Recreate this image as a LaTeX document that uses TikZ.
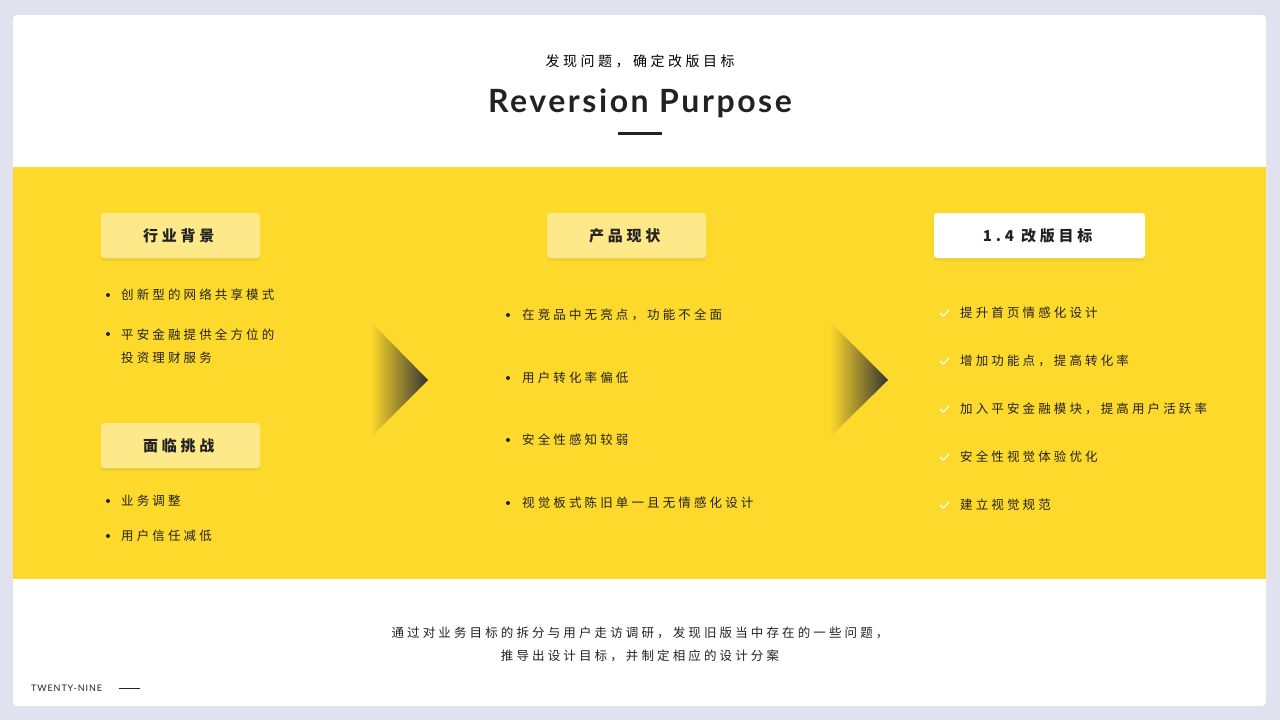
\documentclass[tikz,border=0pt]{standalone}
\usepackage{fontspec}
\setmainfont{Noto Sans CJK SC}
\newfontfamily\cjk[LetterSpace=25]{Noto Sans CJK SC}
\newfontfamily\ttl[LetterSpace=8]{Lato}
\newfontfamily\smallf[LetterSpace=10]{Lato}
\usetikzlibrary{shadows}
\definecolor{bgc}{HTML}{E0E3EE}
\definecolor{ylw}{HTML}{FDD92B}
\definecolor{lylw}{HTML}{FDE98A}
\definecolor{txt}{HTML}{222222}
\tikzset{
 hbox/.style={rounded corners=3pt,minimum width=159pt,minimum height=45pt,inner sep=0pt,font=\cjk\fontsize{15}{15}\selectfont,text=txt,drop shadow={opacity=0.12,shadow xshift=0pt,shadow yshift=-3pt}},
 itm/.style={anchor=west,inner sep=0pt,font=\cjk\fontsize{12.5}{23}\selectfont,text=txt,align=left},
 dot/.style={circle,fill=txt,inner sep=0pt,minimum size=4pt},
}
\begin{document}
\begin{tikzpicture}[x=1pt,y=-1pt]
\useasboundingbox (0,0) rectangle (1280,720);
\fill[bgc] (0,0) rectangle (1280,720);
\fill[white,rounded corners=4pt] (13,15) rectangle (1266,706);
\fill[ylw] (13,167) rectangle (1266,579);
\node (sub) at (640,61) {\cjk\fontsize{14}{14}\selectfont 发现问题，确定改版目标};
\node (title) at (640,103) {\ttl\bfseries\fontsize{32}{32}\selectfont\color{txt}Reversion Purpose};
\draw[txt,line width=3pt] (618,133) -- (662,133);
% boxes
\node[hbox,fill=lylw] (b1) at (180.5,235.5) {\textbf{行业背景}};
\node[hbox,fill=lylw] (b2) at (180.5,445.5) {\textbf{面临挑战}};
\node[hbox,fill=lylw] (b3) at (626.5,235.5) {\textbf{产品现状}};
\node[hbox,fill=white,minimum width=211pt] (b4) at (1039.5,235.5) {\textbf{1.4 改版目标}};
% left items
\node[dot] (d1) at (108,295) {};
\node[itm] (l1) at (121,295) {创新型的网络共享模式};
\node[dot] (d2) at (108,334) {};
\node[itm,anchor=north west] (l2) at (121,329) {平安金融提供全方位的\\投资理财服务};
\node[dot] (d3) at (108,501) {};
\node[itm] (l3) at (121,501) {业务调整};
\node[dot] (d4) at (108,536) {};
\node[itm] (l4) at (121,536) {用户信任减低};
% middle
\foreach \y/\t [count=\i] in {315/在竞品中无亮点，功能不全面,378/用户转化率偏低,440/安全性感知较弱,503/视觉板式陈旧单一且无情感化设计}{
 \node[dot] (md\i) at (508,\y) {};
 \node[itm] (m\i) at (522,\y) {\t};
}
% right
\foreach \y/\t [count=\i] in {313/提升首页情感化设计,361/增加功能点，提高转化率,409/加入平安金融模块，提高用户活跃率,457/安全性视觉体验优化,505/建立视觉规范}{
 \draw[white,line width=1.3pt] (940,\y) -- (943,\y+3) -- (949,\y-3);
 \node[itm] (r\i) at (960,\y) {\t};
}
% triangles
\shade[left color=ylw,right color=black!80] (371,322) -- (428,380) -- (371,437) -- cycle;
\shade[left color=ylw,right color=black!80] (830,322) -- (888,380) -- (830,437) -- cycle;
% bottom
\node[align=center,font=\cjk\fontsize{12.5}{23}\selectfont,text=txt] (bt) at (640,644) {通过对业务目标的拆分与用户走访调研，发现旧版当中存在的一些问题，\\推导出设计目标，并制定相应的设计分案};
\node[anchor=west,font=\smallf\fontsize{9}{9}\selectfont,text=txt,inner sep=0pt] (tn) at (31,688) {TWENTY-NINE};
\coordinate (la) at (119,688);
\coordinate (lb) at (140,688);
\draw[txt,line width=0.8pt] (la) -- (lb);
\end{tikzpicture}
\end{document}
